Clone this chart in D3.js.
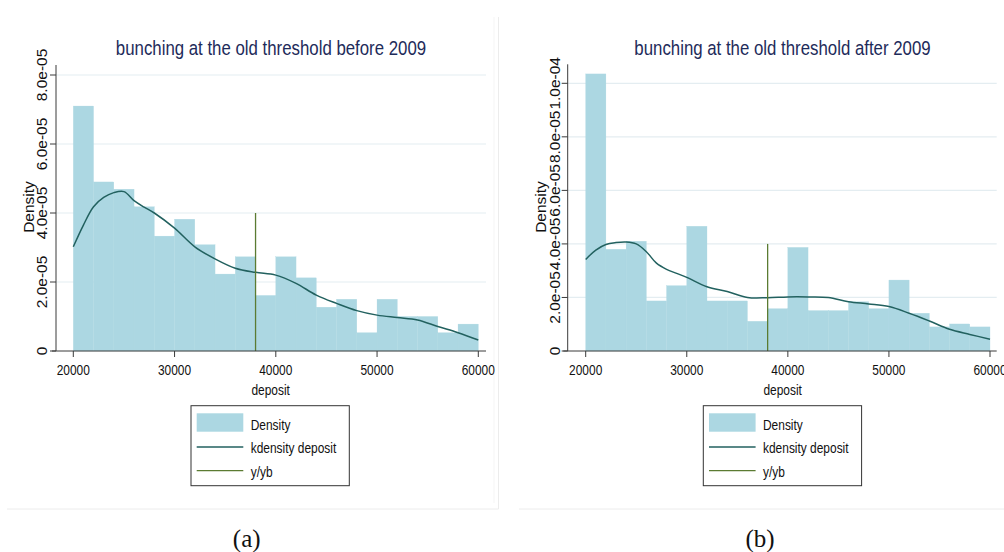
<!DOCTYPE html>
<html>
<head>
<meta charset="utf-8">
<script src="https://cdn.jsdelivr.net/npm/d3@7"></script>
<style>
  html, body { margin: 0; padding: 0; background: #ffffff; }
  svg { display: block; }
</style>
</head>
<body>
<svg id="chart" width="1004" height="552"></svg>
<script>
// ---------- DATA ----------
const binStarts = [20000, 22000, 24000, 26000, 28000, 30000, 32000, 34000, 36000, 38000,
                   40000, 42000, 44000, 46000, 48000, 50000, 52000, 54000, 56000, 58000];
const binWidth = 2000;

const beforeDensity = [7.10e-5, 4.90e-5, 4.69e-5, 4.18e-5, 3.33e-5, 3.82e-5, 3.08e-5, 2.23e-5, 2.73e-5, 1.61e-5,
                       2.73e-5, 2.12e-5, 1.27e-5, 1.50e-5, 0.53e-5, 1.50e-5, 1.00e-5, 1.00e-5, 0.53e-5, 0.78e-5];
const afterDensity  = [10.35e-5, 3.80e-5, 4.10e-5, 1.87e-5, 2.44e-5, 4.66e-5, 1.87e-5, 1.87e-5, 1.11e-5, 1.58e-5,
                       3.87e-5, 1.51e-5, 1.51e-5, 1.84e-5, 1.58e-5, 2.65e-5, 1.41e-5, 0.90e-5, 1.01e-5, 0.90e-5];

const kdeBeforeX = [20000, 21000, 22000, 23000, 24000, 25000, 26000, 27000, 28000, 30000, 32000, 34000, 36000, 38000,
                    40000, 42000, 44000, 46000, 48000, 50000, 52000, 54000, 56000, 58000, 60000];
const kdeBeforeY = [3.02e-5, 3.65e-5, 4.18e-5, 4.45e-5, 4.59e-5, 4.62e-5, 4.36e-5, 4.17e-5, 4.00e-5, 3.56e-5, 3.02e-5, 2.67e-5, 2.40e-5, 2.28e-5,
                    2.20e-5, 1.96e-5, 1.62e-5, 1.38e-5, 1.17e-5, 1.04e-5, 0.97e-5, 0.90e-5, 0.71e-5, 0.53e-5, 0.32e-5];

const kdeAfterX = [20000, 21000, 22000, 23000, 24000, 25000, 26000, 27000, 28000, 29000, 30000, 32000, 34000, 36000,
                   38000, 40000, 42000, 44000, 46000, 48000, 50000, 52000, 54000, 56000, 58000, 60000];
const kdeAfterY = [3.42e-5, 3.77e-5, 3.98e-5, 4.05e-5, 4.07e-5, 4.00e-5, 3.71e-5, 3.28e-5, 3.05e-5, 2.90e-5, 2.75e-5, 2.40e-5, 2.22e-5, 2.00e-5,
                   1.99e-5, 2.02e-5, 2.02e-5, 2.00e-5, 1.84e-5, 1.76e-5, 1.66e-5, 1.41e-5, 1.12e-5, 0.81e-5, 0.62e-5, 0.44e-5];

const thresholdX = 38000;
const thresholdTop = 4.0e-5;

const xTicks = [20000, 30000, 40000, 50000, 60000];
const yTicksBefore = [0, 2e-5, 4e-5, 6e-5, 8e-5];
const yTickLabelsBefore = ["0", "2.0e-05", "4.0e-05", "6.0e-05", "8.0e-05"];
const yTicksAfter = [0, 2e-5, 4e-5, 6e-5, 8e-5, 1e-4];
const yTickLabelsAfter = ["0", "2.0e-05", "4.0e-05", "6.0e-05", "8.0e-05", "1.0e-04"];

const titles = ["bunching at the old threshold before 2009", "bunching at the old threshold after 2009"];
const captions = ["(a)", "(b)"];
const legendLabels = ["Density", "kdensity deposit", "y/yb"];
const xLabel = "deposit";
const yLabel = "Density";

// ---------- STYLE ----------
const C = {
  bar: "#acd7e2",
  kde: "#22615f",
  vline: "#5b7b32",
  grid: "#e4edf1",
  axis: "#3a3a3a",
  title: "#1e2b5a",
  text: "#111111",
  border: "#ececec"
};
const SANS = "'Liberation Sans', Arial, Helvetica, sans-serif";

// condense a text horizontally (emulates a narrow Helvetica)
function condense(sel, factor) {
  sel.each(function () {
    const w = this.getComputedTextLength();
    d3.select(this).attr("textLength", w * factor).attr("lengthAdjust", "spacingAndGlyphs");
  });
  return sel;
}

const svg = d3.select("#chart");

const panels = [
  {
    title: titles[0], caption: captions[0],
    dens: beforeDensity, kx: kdeBeforeX, ky: kdeBeforeY,
    yTicks: yTicksBefore, yLabels: yTickLabelsBefore,
    xRange: [73.3, 478.3], yDomainTop: 8e-5, yRange: [351, 75],
    axisX: 56, axisTop: 65, xAxisL: 52, xAxisR: 486,
    tickLabX: 46.7, yLabX: 33.5, titleX: 271, captionX: 246.7,
    legend: {x: 191, y: 405.7, w: 158.3, h: 80},
    depositX: 270.7
  },
  {
    title: titles[1], caption: captions[1],
    dens: afterDensity, kx: kdeAfterX, ky: kdeAfterY,
    yTicks: yTicksAfter, yLabels: yTickLabelsAfter,
    xRange: [585.7, 990], yDomainTop: 1e-4, yRange: [351, 83.3],
    axisX: 567.7, axisTop: 64.3, xAxisL: 563.3, xAxisR: 996.7,
    tickLabX: 559.5, yLabX: 545.5, titleX: 782.5, captionX: 760,
    legend: {x: 703.3, y: 405.7, w: 158.3, h: 80},
    depositX: 782.7
  }
];

// faint panel frames
svg.append("line").attr("x1", 7).attr("x2", 498.5).attr("y1", 509).attr("y2", 509)
  .attr("stroke", C.border).attr("stroke-width", 1);
svg.append("line").attr("x1", 498.5).attr("x2", 498.5).attr("y1", 17).attr("y2", 509)
  .attr("stroke", C.border).attr("stroke-width", 1);
svg.append("line").attr("x1", 494).attr("x2", 494).attr("y1", 17).attr("y2", 503)
  .attr("stroke", "#f5f5f5").attr("stroke-width", 1);
svg.append("line").attr("x1", 519).attr("x2", 1004).attr("y1", 509).attr("y2", 509)
  .attr("stroke", C.border).attr("stroke-width", 1);

panels.forEach(p => {
  const g = svg.append("g");
  const x = d3.scaleLinear().domain([20000, 60000]).range(p.xRange);
  const y = d3.scaleLinear().domain([0, p.yDomainTop]).range(p.yRange);

  // gridlines
  g.selectAll(".grid").data(p.yTicks.filter(t => t > 0)).enter().append("line")
    .attr("x1", p.axisX).attr("x2", p.xAxisR)
    .attr("y1", d => y(d)).attr("y2", d => y(d))
    .attr("stroke", C.grid).attr("stroke-width", 1.2);

  // bars
  g.selectAll(".bar").data(binStarts).enter().append("rect")
    .attr("x", (d) => x(d))
    .attr("width", (d) => x(d + binWidth) - x(d))
    .attr("y", (d, i) => y(p.dens[i]))
    .attr("height", (d, i) => y(0) - y(p.dens[i]))
    .attr("fill", C.bar)
    .attr("stroke", C.bar).attr("stroke-width", 0.3);

  // kdensity
  const line = d3.line().x(d => x(d[0])).y(d => y(d[1])).curve(d3.curveCatmullRom.alpha(0.5));
  g.append("path").datum(p.kx.map((v, i) => [v, p.ky[i]]))
    .attr("d", line).attr("fill", "none")
    .attr("stroke", C.kde).attr("stroke-width", 1.5);

  // threshold line
  g.append("line")
    .attr("x1", x(thresholdX)).attr("x2", x(thresholdX))
    .attr("y1", y(0)).attr("y2", y(thresholdTop))
    .attr("stroke", C.vline).attr("stroke-width", 1.3);

  // y axis
  g.append("line").attr("x1", p.axisX).attr("x2", p.axisX)
    .attr("y1", p.axisTop).attr("y2", y(0))
    .attr("stroke", C.axis).attr("stroke-width", 1);
  g.selectAll(".ytick").data(p.yTicks).enter().append("line")
    .attr("x1", p.axisX - 6).attr("x2", p.axisX)
    .attr("y1", d => y(d)).attr("y2", d => y(d))
    .attr("stroke", C.axis).attr("stroke-width", 1);
  g.selectAll(".ylab").data(p.yTicks).enter().append("text")
    .attr("transform", d => `translate(${p.tickLabX},${y(d)}) rotate(-90)`)
    .attr("text-anchor", "middle")
    .attr("font-family", SANS).attr("font-size", 15.5)
    .attr("fill", C.text)
    .text((d, i) => p.yLabels[i]);
  g.append("text")
    .attr("transform", `translate(${p.yLabX},207) rotate(-90)`)
    .attr("text-anchor", "middle")
    .attr("font-family", SANS).attr("font-size", 15.5)
    .attr("fill", C.text)
    .text(yLabel);

  // x axis
  g.append("line").attr("x1", p.xAxisL).attr("x2", p.xAxisR)
    .attr("y1", y(0)).attr("y2", y(0))
    .attr("stroke", C.axis).attr("stroke-width", 1);
  g.selectAll(".xtick").data(xTicks).enter().append("line")
    .attr("x1", d => x(d)).attr("x2", d => x(d))
    .attr("y1", y(0)).attr("y2", y(0) + 6)
    .attr("stroke", C.axis).attr("stroke-width", 1);
  condense(g.selectAll(".xlab").data(xTicks).enter().append("text")
    .attr("x", d => x(d)).attr("y", 375)
    .attr("text-anchor", "middle")
    .attr("font-family", SANS).attr("font-size", 15.5)
    .attr("fill", C.text)
    .text(d => d), 0.77);
  condense(g.append("text")
    .attr("x", p.depositX).attr("y", 395)
    .attr("text-anchor", "middle")
    .attr("font-family", SANS).attr("font-size", 15.5)
    .attr("fill", C.text)
    .text(xLabel), 0.77);

  // title
  condense(g.append("text")
    .attr("x", p.titleX).attr("y", 55)
    .attr("text-anchor", "middle")
    .attr("font-family", SANS).attr("font-size", 20.5)
    .attr("fill", C.title)
    .text(p.title), 0.82);

  // legend
  const L = p.legend;
  const lg = g.append("g");
  lg.append("rect").attr("x", L.x).attr("y", L.y).attr("width", L.w).attr("height", L.h)
    .attr("fill", "#ffffff").attr("stroke", "#333333").attr("stroke-width", 1);
  lg.append("rect").attr("x", L.x + 5.7).attr("y", L.y + 7.6).attr("width", 46.6).attr("height", 18.4)
    .attr("fill", C.bar);
  lg.append("line").attr("x1", L.x + 5.7).attr("x2", L.x + 52.3)
    .attr("y1", L.y + 41.3).attr("y2", L.y + 41.3)
    .attr("stroke", C.kde).attr("stroke-width", 1.3);
  lg.append("line").attr("x1", L.x + 5.7).attr("x2", L.x + 52.3)
    .attr("y1", L.y + 65).attr("y2", L.y + 65)
    .attr("stroke", C.vline).attr("stroke-width", 1.3);
  const baselines = [23.8, 47.3, 70.8];
  condense(lg.selectAll(".lt").data(legendLabels).enter().append("text")
    .attr("x", L.x + 59.7).attr("y", (d, i) => L.y + baselines[i])
    .attr("font-family", SANS).attr("font-size", 15.5)
    .attr("fill", C.text)
    .text(d => d), 0.77);

  // caption
  g.append("text")
    .attr("x", p.captionX).attr("y", 547)
    .attr("text-anchor", "middle")
    .attr("font-family", "'Liberation Serif', 'DejaVu Serif', serif").attr("font-size", 25)
    .attr("fill", "#111")
    .text(p.caption);
});
</script>
</body>
</html>
